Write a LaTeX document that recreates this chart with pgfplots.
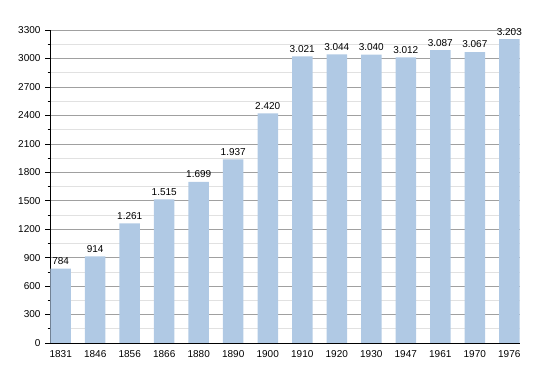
\documentclass[border=0pt]{standalone}
\usepackage{pgfplots}
\pgfplotsset{compat=1.18}
\usepackage{fontspec}
\setmainfont{Liberation Sans}
\definecolor{barblue}{RGB}{176,201,228}
\definecolor{majgrid}{RGB}{160,160,160}
\definecolor{mingrid}{RGB}{225,225,225}
\begin{document}
\begin{tikzpicture}
\begin{axis}[
  scale only axis,
  width=470pt, height=313pt,
  xmin=-0.31, xmax=13.31,
  ymin=0, ymax=3300,
  ytick={0,300,...,3300},
  minor y tick num=1,
  xtick=data,
  xticklabels={1831,1846,1856,1866,1880,1890,1900,1910,1920,1930,1947,1961,1970,1976},
  axis x line*=bottom,
  axis y line*=left,
  axis line style={black, line width=0.8pt, -},
  ymajorgrids, yminorgrids,
  major grid style={majgrid, line width=0.6pt},
  minor grid style={mingrid, line width=0.6pt},
  x tick style={draw=none},
  y tick style={black, line width=0.6pt},
  major tick length=5pt,
  minor tick length=2.5pt,
  tick align=outside,
  yticklabel style={/pgf/number format/1000 sep={}, /pgf/number format/assume math mode=true, xshift=-1pt},
  ticklabel style={font=\fontsize{10}{12}\selectfont},
  xticklabel style={yshift=1pt},
  nodes near coords,
  nodes near coords style={font=\fontsize{10}{12}\selectfont, /pgf/number format/1000 sep={.}, /pgf/number format/assume math mode=true, /pgf/number format/fixed, /pgf/number format/precision=0, yshift=0.5pt},
  clip=false,
]
\addplot[ybar, bar width=20.5pt, fill=barblue, draw=none] coordinates {
(0,784) (1,914) (2,1261) (3,1515) (4,1699) (5,1937) (6,2420) (7,3021) (8,3044) (9,3040) (10,3012) (11,3087) (12,3067) (13,3203)
};
\end{axis}
\path ([xshift=-50pt,yshift=-30pt]current axis.south west) rectangle ([xshift=30pt,yshift=30pt]current axis.north east);
\end{tikzpicture}
\end{document}
